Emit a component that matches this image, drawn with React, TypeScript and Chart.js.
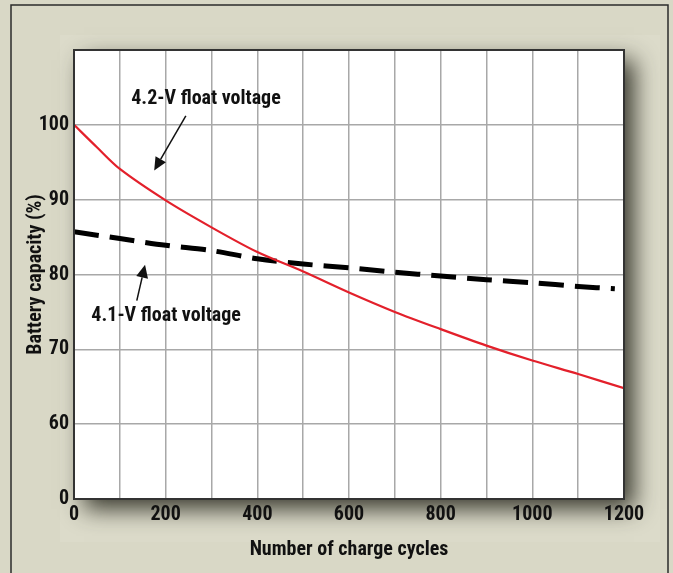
import React, { useEffect, useRef } from 'react';
import { Chart, registerables } from 'chart.js';

Chart.register(...registerables);

// ---- data ----
const redCycles = [0, 50, 100, 200, 300, 400, 500, 600, 700, 800, 900, 1000, 1100, 1200];
const redCapacity = [100, 97.0, 94.1, 89.9, 86.3, 83.0, 80.4, 77.6, 75.0, 72.7, 70.5, 68.5, 66.7, 64.8];
const blackCycles = [0, 100, 200, 300, 400, 500, 600, 700, 800, 900, 1000, 1100, 1180];
const blackCapacity = [85.7, 84.8, 83.9, 83.2, 82.1, 81.4, 80.9, 80.3, 79.8, 79.3, 78.9, 78.4, 78.1];
const xLabelValues = [0, 200, 400, 600, 800, 1000, 1200];
const yTickValues = [50, 60, 70, 80, 90, 100, 110];
const yTickLabels = ['0', '60', '70', '80', '90', '100', ''];
const seriesNames = ['4.2-V float voltage', '4.1-V float voltage'];

// annotation placement (in data units)
const notes = [
  { text: seriesNames[0], tx: 288, ty: 103.4, ax: 244, ay: 101.2, bx: 175, by: 93.9 },
  { text: seriesNames[1], tx: 201, ty: 74.4, ax: 137, ay: 76.5, bx: 155, by: 81.3 },
];

const FONT = "'Roboto Condensed', 'Liberation Sans Narrow', 'DejaVu Sans Condensed', sans-serif";
const FS = 20;

const framePlugin = {
  id: 'frame',
  beforeDraw(chart: any) {
    const { ctx, chartArea: a, width, height } = chart;
    ctx.save();
    ctx.fillStyle = '#d9d8c6';
    ctx.fillRect(0, 0, width, height);
    ctx.fillStyle = '#dcdbca';
    ctx.fillRect(60, 35, 600, 507);
    ctx.strokeStyle = '#2b2b2b';
    ctx.lineWidth = 1.5;
    ctx.beginPath();
    ctx.moveTo(11, height);
    ctx.lineTo(11, 5);
    ctx.lineTo(668, 5);
    ctx.lineTo(668, height);
    ctx.stroke();
    ctx.shadowColor = 'rgba(40,40,30,0.9)';
    ctx.shadowBlur = 22;
    ctx.shadowOffsetX = 10;
    ctx.shadowOffsetY = 10;
    ctx.fillStyle = '#ffffff';
    ctx.fillRect(a.left, a.top, a.right - a.left, a.bottom - a.top);
    ctx.restore();
  },
  afterDraw(chart: any) {
    const { ctx, chartArea: a, scales } = chart;
    const xs = scales.x;
    const ys = scales.y;
    ctx.save();
    ctx.strokeStyle = '#333333';
    ctx.lineWidth = 2;
    ctx.strokeRect(a.left, a.top, a.right - a.left, a.bottom - a.top);

    ctx.font = `bold ${FS}px ${FONT}`;
    ctx.fillStyle = '#111111';
    ctx.textAlign = 'center';
    ctx.textBaseline = 'middle';
    for (const n of notes) {
      ctx.fillText(n.text, xs.getPixelForValue(n.tx), ys.getPixelForValue(n.ty));
      const x1 = xs.getPixelForValue(n.ax);
      const y1 = ys.getPixelForValue(n.ay);
      const x2 = xs.getPixelForValue(n.bx);
      const y2 = ys.getPixelForValue(n.by);
      const ang = Math.atan2(y2 - y1, x2 - x1);
      const head = 13;
      const hw = 6;
      const bx = x2 - head * Math.cos(ang);
      const by = y2 - head * Math.sin(ang);
      ctx.strokeStyle = '#111111';
      ctx.lineWidth = 1.5;
      ctx.beginPath();
      ctx.moveTo(x1, y1);
      ctx.lineTo(bx, by);
      ctx.stroke();
      ctx.beginPath();
      ctx.moveTo(x2, y2);
      ctx.lineTo(bx + hw * Math.sin(ang), by - hw * Math.cos(ang));
      ctx.lineTo(bx - hw * Math.sin(ang), by + hw * Math.cos(ang));
      ctx.closePath();
      ctx.fill();
    }
    ctx.restore();
  },
};

export default function App() {
  const ref = useRef<HTMLCanvasElement>(null);
  useEffect(() => {
    if (!ref.current) return;
    const chart = new Chart(ref.current, {
      type: 'line',
      data: {
        datasets: [
          {
            label: seriesNames[0],
            data: redCycles.map((c, i) => ({ x: c, y: redCapacity[i] })),
            borderColor: '#e3202b',
            borderWidth: 2.2,
            pointRadius: 0,
            tension: 0.3,
            fill: false,
          },
          {
            label: seriesNames[1],
            data: blackCycles.map((c, i) => ({ x: c, y: blackCapacity[i] })),
            borderColor: '#000000',
            borderWidth: 5,
            borderDash: [25, 11],
            borderCapStyle: 'butt',
            pointRadius: 0,
            tension: 0.3,
            fill: false,
          },
        ],
      },
      options: {
        animation: false,
        responsive: false,
        devicePixelRatio: 1,
        layout: { padding: { left: 24, top: 50, right: 49, bottom: 0 } },
        plugins: { legend: { display: false }, tooltip: { enabled: false } },
        scales: {
          x: {
            type: 'linear',
            min: 0,
            max: 1200,
            afterFit: (s: any) => { s.height = 74; },
            afterBuildTicks: (s: any) => {
              const t = [];
              for (let v = 0; v <= 1200; v += 100) t.push({ value: v });
              s.ticks = t;
            },
            ticks: {
              autoSkip: false,
              maxRotation: 0,
              padding: 4,
              color: '#111111',
              font: { family: FONT, size: FS, weight: 'bold' },
              callback: (v: any) => (xLabelValues.includes(Number(v)) ? String(v) : ''),
            },
            grid: { color: '#a8a8a8', lineWidth: 1.5, drawTicks: false },
            border: { display: false },
            title: {
              display: true,
              text: 'Number of charge cycles',
              color: '#111111',
              font: { family: FONT, size: FS, weight: 'bold' },
              padding: { top: 0, bottom: 11 },
            },
          },
          y: {
            type: 'linear',
            min: 50,
            max: 110,
            afterFit: (s: any) => { s.width = 50; },
            afterBuildTicks: (s: any) => {
              s.ticks = yTickValues.map((v) => ({ value: v }));
            },
            ticks: {
              padding: 5,
              color: '#111111',
              font: { family: FONT, size: FS, weight: 'bold' },
              callback: (v: any) => {
                const i = yTickValues.indexOf(Number(v));
                return i >= 0 ? yTickLabels[i] : '';
              },
            },
            grid: { color: '#a8a8a8', lineWidth: 1.5, drawTicks: false },
            border: { display: false },
            title: {
              display: true,
              text: 'Battery capacity (%)',
              color: '#111111',
              font: { family: FONT, size: FS, weight: 'bold' },
              padding: 0,
            },
          },
        },
      },
      plugins: [framePlugin],
    } as any);
    return () => chart.destroy();
  }, []);
  return (
    <div style={{ position: 'absolute', left: 0, top: 0, width: 673, height: 573 }}>
      <canvas ref={ref} width={673} height={573} style={{ display: 'block' }} />
    </div>
  );
}
